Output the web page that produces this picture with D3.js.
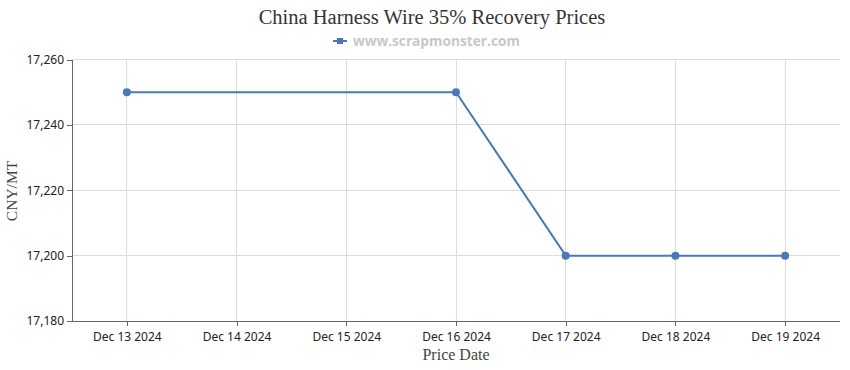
<!DOCTYPE html>
<html><head><meta charset="utf-8">
<script src="https://cdn.jsdelivr.net/npm/d3@7"></script>
<style>body{margin:0;background:#fff}</style>
</head><body>
<svg id="c" width="850" height="370"></svg>
<script>
const categories = ["Dec 13 2024","Dec 14 2024","Dec 15 2024","Dec 16 2024","Dec 17 2024","Dec 18 2024","Dec 19 2024"];
const pointDates = ["Dec 13 2024","Dec 16 2024","Dec 17 2024","Dec 18 2024","Dec 19 2024"];
const prices = [17250, 17250, 17200, 17200, 17200];
const yTicks = [17180, 17200, 17220, 17240, 17260];

const svg = d3.select("#c");
const m = {l:72, r:840, t:59.5, b:321};
const x = d3.scalePoint().domain(categories).range([m.l, m.r]).padding(0.5);
const y = d3.scaleLinear().domain([17180, 17260]).range([m.b, m.t]);
const color = "#4a7ab5";

// grid
svg.append("g").selectAll("line.h").data(yTicks.slice(1)).join("line")
  .attr("x1", m.l).attr("x2", m.r).attr("y1", d=>y(d)).attr("y2", d=>y(d))
  .attr("stroke", "#dcdcdc").attr("stroke-width", 1).attr("shape-rendering","crispEdges");
svg.append("g").selectAll("line.v").data(categories).join("line")
  .attr("x1", d=>x(d)).attr("x2", d=>x(d)).attr("y1", m.t).attr("y2", m.b)
  .attr("stroke", "#dcdcdc").attr("stroke-width", 1).attr("shape-rendering","crispEdges");

// axes
const xa = svg.append("g").attr("transform", `translate(0,${m.b})`)
  .call(d3.axisBottom(x).tickSize(5).tickSizeOuter(0));
const ya = svg.append("g").attr("transform", `translate(${m.l},0)`)
  .call(d3.axisLeft(y).tickValues(yTicks).tickFormat(d3.format(",")).tickSize(5).tickSizeOuter(0));
[xa, ya].forEach(a => {
  a.selectAll("path,line").attr("stroke", "#666").attr("shape-rendering","crispEdges");
  a.selectAll("text").attr("fill", "#222").style("font-family", "'Noto Sans', 'Open Sans', sans-serif").style("font-size", "12px");
});
xa.selectAll("text").attr("dy", "1.0em");
xa.select(".domain").attr("d", `M${m.l},0H${m.r}`);

// line
svg.append("path").datum(pointDates.map((d,i)=>[x(d), y(prices[i])]))
  .attr("d", d3.line()).attr("fill","none").attr("stroke", color).attr("stroke-width", 2);
svg.append("g").selectAll("circle").data(pointDates).join("circle")
  .attr("cx", d=>x(d)).attr("cy", (d,i)=>y(prices[i])).attr("r", 4).attr("fill", color);

// title
svg.append("text").attr("x", 432).attr("y", 24).attr("text-anchor","middle")
  .style("font-family","'Liberation Serif', serif").style("font-size","20.5px").attr("fill","#333")
  .text("China Harness Wire 35% Recovery Prices");
// legend
svg.append("line").attr("x1",333).attr("x2",347).attr("y1",41).attr("y2",41).attr("stroke",color).attr("stroke-width",2);
svg.append("rect").attr("x",337).attr("y",38).attr("width",6).attr("height",6).attr("fill",color);
svg.append("text").attr("x",353).attr("y",45.5)
  .style("font-family","'Open Sans', 'Noto Sans', sans-serif").style("font-size","13.7px").style("font-weight","bold")
  .attr("fill","#c8c8c8").text("www.scrapmonster.com");
// axis titles
svg.append("text").attr("x", 456).attr("y", 360).attr("text-anchor","middle")
  .style("font-family","'Liberation Serif', serif").style("font-size","16px").attr("fill","#444").text("Price Date");
svg.append("text").attr("transform","translate(17,191) rotate(-90)").attr("text-anchor","middle")
  .style("font-family","'Liberation Serif', serif").style("font-size","15.5px").attr("fill","#444").text("CNY/MT");
</script>
</body></html>
